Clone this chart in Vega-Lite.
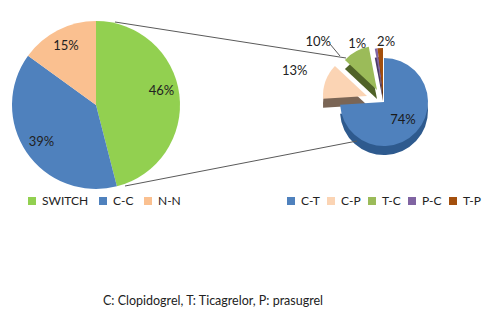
{
  "$schema": "https://vega.github.io/schema/vega-lite/v6.json",
  "width": 501,
  "height": 319,
  "autosize": {"type": "fit", "contains": "padding"},
  "padding": 0,
  "background": "white",
  "config": {"view": {"stroke": null}, "font": "Lato"},
  "resolve": {"scale": {"color": "independent"}},
  "layer": [
    {
      "data": {"values": [
        {"group": "SWITCH", "pct": 46},
        {"group": "C-C", "pct": 39},
        {"group": "N-N", "pct": 15}
      ]},
      "transform": [
        {"window": [{"op": "row_number", "as": "i"}]},
        {"stack": "pct", "groupby": [], "sort": [{"field": "i", "order": "ascending"}], "as": ["t0", "t1"]},
        {"calculate": "(datum.t0 + datum.t1) / 2", "as": "tm"},
        {"calculate": "datum.pct + '%'", "as": "label"}
      ],
      "encoding": {
        "x": {"datum": 96, "type": "quantitative", "scale": {"domain": [0, 501]}, "axis": null},
        "y": {"datum": 105, "type": "quantitative", "scale": {"domain": [0, 319], "reverse": true}, "axis": null}
      },
      "layer": [
        {
          "mark": {"type": "arc", "outerRadius": 84},
          "encoding": {
            "theta": {"field": "t0", "type": "quantitative", "scale": {"domain": [0, 100]}},
            "theta2": {"field": "t1"},
            "color": {
              "field": "group", "type": "nominal",
              "scale": {"domain": ["SWITCH", "C-C", "N-N"], "range": ["#92D050", "#4F81BD", "#FAC090"]},
              "legend": {"orient": "none", "legendX": 26, "legendY": 195, "direction": "horizontal", "title": null, "symbolType": "square", "symbolSize": 64, "symbolStrokeWidth": 0, "labelFontSize": 12, "labelFont": "Lato", "labelColor": "#222222", "columnPadding": 8, "labelOffset": 4}
            }
          }
        },
        {
          "transform": [{"filter": {"field": "group", "equal": "SWITCH"}}],
          "mark": {"type": "text", "radius": 66, "dy": -6, "fontSize": 13, "color": "#222222"},
          "encoding": {
            "theta": {"field": "tm", "type": "quantitative", "scale": {"domain": [0, 100]}},
            "text": {"field": "label"}
          }
        },
        {
          "transform": [{"filter": {"field": "group", "oneOf": ["C-C", "N-N"]}}],
          "mark": {"type": "text", "radius": 66, "fontSize": 13, "color": "#222222"},
          "encoding": {
            "theta": {"field": "tm", "type": "quantitative", "scale": {"domain": [0, 100]}},
            "text": {"field": "label"}
          }
        }
      ]
    },
    {
      "data": {"values": [
        {"type": "C-T", "pct": 74},
        {"type": "C-P", "pct": 13},
        {"type": "T-C", "pct": 10},
        {"type": "P-C", "pct": 1},
        {"type": "T-P", "pct": 2}
      ]},
      "transform": [
        {"window": [{"op": "row_number", "as": "i"}]},
        {"stack": "pct", "groupby": [], "sort": [{"field": "i", "order": "ascending"}], "as": ["t0", "t1"]},
        {"calculate": "(datum.t0 + datum.t1) / 2", "as": "tm"},
        {"calculate": "datum.pct + '%'", "as": "label"}
      ],
      "encoding": {
        "x": {"datum": 384, "type": "quantitative", "scale": {"domain": [0, 501]}, "axis": null},
        "y": {"datum": 102, "type": "quantitative", "scale": {"domain": [0, 319], "reverse": true}, "axis": null},
        "theta": {"field": "t0", "type": "quantitative", "scale": {"domain": [0, 100]}},
        "theta2": {"field": "t1"}
      },
      "layer": [
        {
          "transform": [{"filter": {"field": "type", "equal": "C-P"}}],
          "mark": {"type": "arc", "outerRadius": 44, "xOffset": -17, "yOffset": 3},
          "encoding": {"fill": {"field": "type", "type": "nominal", "scale": {"domain": ["C-T", "C-P", "T-C", "P-C", "T-P"], "range": ["#2E5A8E", "#7A6555", "#4F6228", "#4A3A66", "#5E2D06"]}, "legend": null}}
        },
        {
          "transform": [{"filter": {"field": "type", "equal": "C-P"}}],
          "mark": {"type": "arc", "outerRadius": 44, "xOffset": -17, "yOffset": -6},
          "encoding": {"color": {"field": "type", "type": "nominal", "scale": {"domain": ["C-T", "C-P", "T-C", "P-C", "T-P"], "range": ["#4F81BD", "#FBD4B4", "#9BBB59", "#8064A2", "#A34F0D"]}, "legend": {"orient": "none", "legendX": 285, "legendY": 195, "direction": "horizontal", "title": null, "symbolType": "square", "symbolSize": 64, "symbolStrokeWidth": 0, "labelFontSize": 12, "labelFont": "Lato", "labelColor": "#222222", "columnPadding": 5, "labelOffset": 4}}}
        },
        {
          "transform": [{"filter": {"field": "type", "equal": "T-C"}}],
          "mark": {"type": "arc", "outerRadius": 44, "xOffset": -7, "yOffset": -3},
          "encoding": {"fill": {"field": "type", "type": "nominal", "scale": {"domain": ["C-T", "C-P", "T-C", "P-C", "T-P"], "range": ["#2E5A8E", "#7A6555", "#4F6228", "#4A3A66", "#5E2D06"]}, "legend": null}}
        },
        {
          "transform": [{"filter": {"field": "type", "equal": "T-C"}}],
          "mark": {"type": "arc", "outerRadius": 44, "xOffset": -7, "yOffset": -12},
          "encoding": {"color": {"field": "type", "type": "nominal", "scale": {"domain": ["C-T", "C-P", "T-C", "P-C", "T-P"], "range": ["#4F81BD", "#FBD4B4", "#9BBB59", "#8064A2", "#A34F0D"]}, "legend": {"orient": "none", "legendX": 285, "legendY": 195, "direction": "horizontal", "title": null, "symbolType": "square", "symbolSize": 64, "symbolStrokeWidth": 0, "labelFontSize": 12, "labelFont": "Lato", "labelColor": "#222222", "columnPadding": 5, "labelOffset": 4}}}
        },
        {
          "transform": [{"filter": {"field": "type", "oneOf": ["P-C", "T-P"]}}],
          "mark": {"type": "arc", "outerRadius": 44, "xOffset": -1, "yOffset": -1},
          "encoding": {"fill": {"field": "type", "type": "nominal", "scale": {"domain": ["C-T", "C-P", "T-C", "P-C", "T-P"], "range": ["#2E5A8E", "#7A6555", "#4F6228", "#4A3A66", "#5E2D06"]}, "legend": null}}
        },
        {
          "transform": [{"filter": {"field": "type", "oneOf": ["P-C", "T-P"]}}],
          "mark": {"type": "arc", "outerRadius": 44, "xOffset": -1, "yOffset": -10},
          "encoding": {"color": {"field": "type", "type": "nominal", "scale": {"domain": ["C-T", "C-P", "T-C", "P-C", "T-P"], "range": ["#4F81BD", "#FBD4B4", "#9BBB59", "#8064A2", "#A34F0D"]}, "legend": {"orient": "none", "legendX": 285, "legendY": 195, "direction": "horizontal", "title": null, "symbolType": "square", "symbolSize": 64, "symbolStrokeWidth": 0, "labelFontSize": 12, "labelFont": "Lato", "labelColor": "#222222", "columnPadding": 5, "labelOffset": 4}}}
        },
        {
          "transform": [{"filter": {"field": "type", "equal": "C-T"}}],
          "mark": {"type": "arc", "outerRadius": 44, "yOffset": 9},
          "encoding": {"fill": {"field": "type", "type": "nominal", "scale": {"domain": ["C-T", "C-P", "T-C", "P-C", "T-P"], "range": ["#2E5A8E", "#7A6555", "#4F6228", "#4A3A66", "#5E2D06"]}, "legend": null}}
        },
        {
          "transform": [{"filter": {"field": "type", "equal": "C-T"}}],
          "mark": {"type": "arc", "outerRadius": 44},
          "encoding": {"color": {"field": "type", "type": "nominal", "scale": {"domain": ["C-T", "C-P", "T-C", "P-C", "T-P"], "range": ["#4F81BD", "#FBD4B4", "#9BBB59", "#8064A2", "#A34F0D"]}, "legend": {"orient": "none", "legendX": 285, "legendY": 195, "direction": "horizontal", "title": null, "symbolType": "square", "symbolSize": 64, "symbolStrokeWidth": 0, "labelFontSize": 12, "labelFont": "Lato", "labelColor": "#222222", "columnPadding": 5, "labelOffset": 4}}}
        },
        {
          "transform": [{"filter": {"field": "type", "equal": "C-T"}}],
          "mark": {"type": "text", "radius": 26, "fontSize": 13, "color": "#1a1a1a"},
          "encoding": {"theta": {"field": "tm", "type": "quantitative", "scale": {"domain": [0, 100]}}, "theta2": null, "text": {"field": "label"}}
        },
        {
          "transform": [{"filter": {"field": "type", "equal": "C-P"}}],
          "mark": {"type": "text", "radius": 80, "dx": -14, "dy": -4, "fontSize": 13, "color": "#222222"},
          "encoding": {"theta": {"field": "tm", "type": "quantitative", "scale": {"domain": [0, 100]}}, "theta2": null, "text": {"field": "label"}}
        },
        {
          "transform": [{"filter": {"field": "type", "equal": "T-C"}}],
          "mark": {"type": "text", "radius": 62, "dx": -36, "dy": -6, "fontSize": 13, "color": "#222222"},
          "encoding": {"theta": {"field": "tm", "type": "quantitative", "scale": {"domain": [0, 100]}}, "theta2": null, "text": {"field": "label"}}
        },
        {
          "transform": [{"filter": {"field": "type", "equal": "P-C"}}],
          "mark": {"type": "text", "radius": 62, "dx": -17, "dy": 3, "fontSize": 13, "color": "#222222"},
          "encoding": {"theta": {"field": "tm", "type": "quantitative", "scale": {"domain": [0, 100]}}, "theta2": null, "text": {"field": "label"}}
        },
        {
          "transform": [{"filter": {"field": "type", "equal": "T-P"}}],
          "mark": {"type": "text", "radius": 62, "dx": 6, "dy": 2, "fontSize": 13, "color": "#222222"},
          "encoding": {"theta": {"field": "tm", "type": "quantitative", "scale": {"domain": [0, 100]}}, "theta2": null, "text": {"field": "label"}}
        }
      ]
    },
    {
      "data": {"values": [{"caption": "C: Clopidogrel, T: Ticagrelor, P: prasugrel"}]},
      "layer": [
        {
          "mark": {"type": "rule", "color": "#5a5a5a", "strokeWidth": 1},
          "encoding": {
            "x": {"datum": 115, "type": "quantitative", "scale": {"domain": [0, 501]}, "axis": null},
            "y": {"datum": 22, "type": "quantitative", "scale": {"domain": [0, 319], "reverse": true}, "axis": null},
            "x2": {"datum": 346},
            "y2": {"datum": 58}
          }
        },
        {
          "mark": {"type": "rule", "color": "#5a5a5a", "strokeWidth": 1},
          "encoding": {
            "x": {"datum": 125, "type": "quantitative", "scale": {"domain": [0, 501]}, "axis": null},
            "y": {"datum": 186, "type": "quantitative", "scale": {"domain": [0, 319], "reverse": true}, "axis": null},
            "x2": {"datum": 357},
            "y2": {"datum": 141}
          }
        },
        {
          "mark": {"type": "rule", "color": "#5a5a5a", "strokeWidth": 1},
          "encoding": {
            "x": {"datum": 330, "type": "quantitative", "scale": {"domain": [0, 501]}, "axis": null},
            "y": {"datum": 44, "type": "quantitative", "scale": {"domain": [0, 319], "reverse": true}, "axis": null},
            "x2": {"datum": 340},
            "y2": {"datum": 56}
          }
        },
        {
          "mark": {"type": "text", "align": "left", "baseline": "middle", "fontSize": 12.5, "color": "#222222", "font": "Lato"},
          "encoding": {
            "x": {"datum": 103, "type": "quantitative", "scale": {"domain": [0, 501]}, "axis": null},
            "y": {"datum": 301, "type": "quantitative", "scale": {"domain": [0, 319], "reverse": true}, "axis": null},
            "text": {"field": "caption"}
          }
        }
      ]
    }
  ]
}
